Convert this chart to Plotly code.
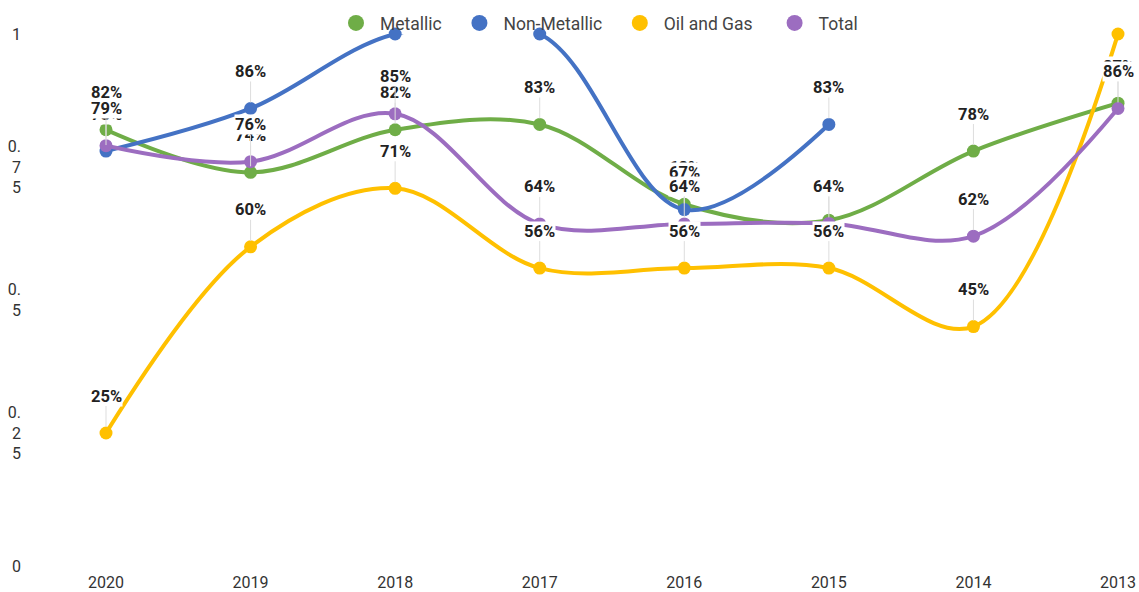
import plotly.graph_objects as go

years = ["2020", "2019", "2018", "2017", "2016", "2015", "2014", "2013"]
metallic = [0.82, 0.74, 0.82, 0.83, 0.68, 0.65, 0.78, 0.87]
non_metallic = [0.78, 0.86, 1.0, 1.0, 0.67, 0.83, None, None]
oil_gas = [0.25, 0.60, 0.71, 0.56, 0.56, 0.56, 0.45, 1.0]
total = [0.79, 0.76, 0.85, 0.643, 0.643, 0.644, 0.62, 0.86]

series = [
    ("Metallic", metallic, "#6FAD47"),
    ("Non-Metallic", non_metallic, "#4472C4"),
    ("Oil and Gas", oil_gas, "#FFC000"),
    ("Total", total, "#9C6DC0"),
]
legend_pad = [2, 2, 3, 0]

ytick_vals = [0, 0.25, 0.5, 0.75, 1]
ytick_text = ["0", "0.<br>2<br>5", "0.<br>5", "0.<br>7<br>5", "1"]

NBSP = "\u00a0"

fig = go.Figure()
annotations = []
for k, (name, vals, color) in enumerate(series):
    fig.add_trace(go.Scatter(
        x=years, y=vals, name=name, mode="lines+markers",
        line=dict(color=color, width=4, shape="spline", smoothing=1),
        marker=dict(color=color, size=13),
        cliponaxis=False, showlegend=False, connectgaps=False,
        hoverinfo="skip",
    ))
    fig.add_trace(go.Scatter(
        x=[None], y=[None], name=name + NBSP * legend_pad[k], mode="markers",
        marker=dict(color=color, size=22), showlegend=True,
    ))
    for i, v in enumerate(vals):
        if v is None or v >= 0.97:
            continue
        annotations.append(dict(
            x=i, y=v, xref="x", yref="y",
            text=f"{round(v * 100)}%",
            showarrow=True, arrowhead=0, arrowwidth=1, arrowcolor="#dddddd",
            ax=0, ay=-37, standoff=6,
            bgcolor="white", borderpad=0,
            font=dict(family="Roboto", size=16.5, color="#222222", weight="bold"),
        ))

fig.update_layout(
    width=1139, height=592,
    margin=dict(l=106, r=21, t=34, b=26, autoexpand=False),
    paper_bgcolor="white", plot_bgcolor="white",
    font=dict(family="Roboto", color="#333333"),
    annotations=annotations,
    hovermode=False,
    legend=dict(
        orientation="h", x=332 / 1139, xanchor="left", xref="container",
        y=1 - 23 / 592, yanchor="middle", yref="container",
        font=dict(family="Roboto", size=17.5, color="#444444"),
        itemsizing="trace", itemwidth=38,
        bgcolor="rgba(0,0,0,0)",
    ),
    xaxis=dict(
        type="category", range=[0, 7], showgrid=False, zeroline=False,
        showline=False, ticks="", automargin=False, ticklabelstandoff=5,
        tickfont=dict(size=16, color="#333333"),
    ),
    yaxis=dict(
        range=[0, 1], tickvals=ytick_vals, ticktext=ytick_text,
        showgrid=False, zeroline=False, showline=False, ticks="",
        automargin=False,
        tickfont=dict(size=16, color="#333333"), ticklabelstandoff=84,
    ),
)

fig.write_html(
    "out.html",
    config={"displayModeBar": False},
    post_script="document.body.style.margin='0';document.body.style.overflow='hidden';",
)
